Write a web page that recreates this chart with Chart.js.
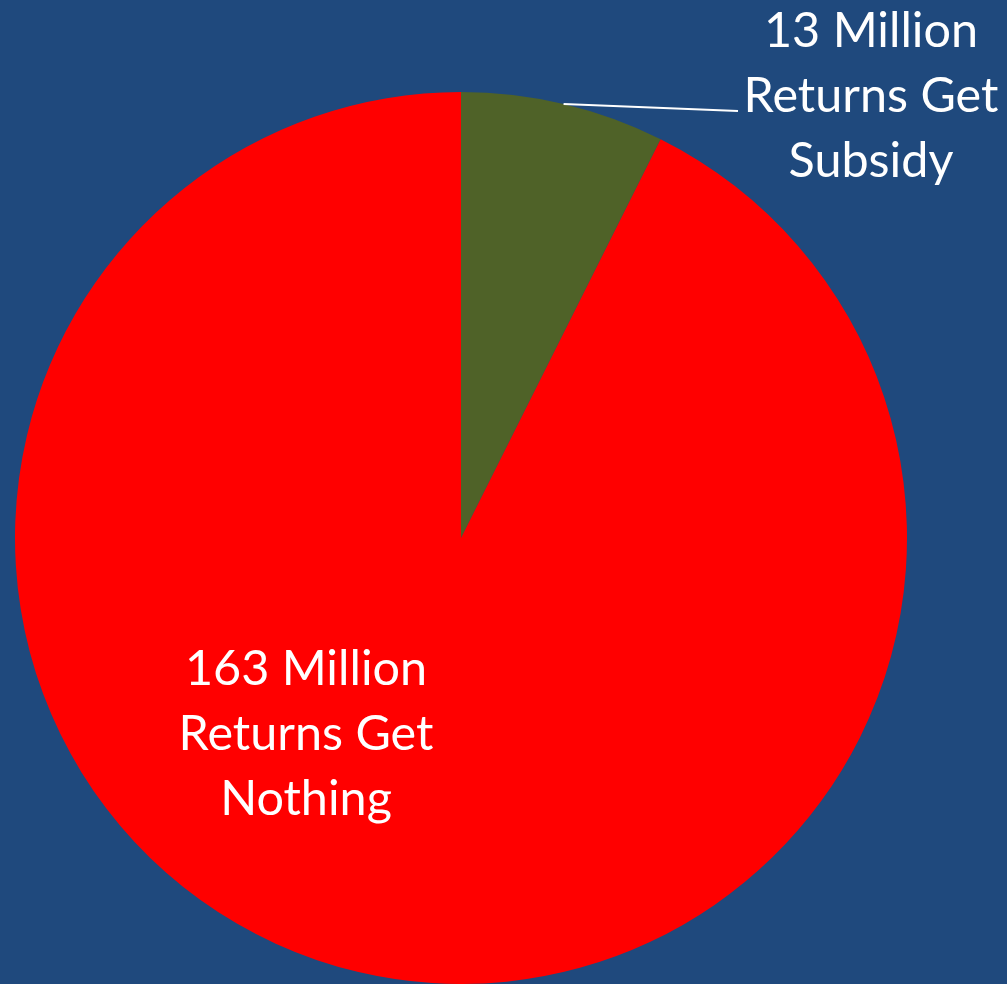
<!DOCTYPE html>
<html>
<head>
<meta charset="utf-8">
<script src="https://cdn.jsdelivr.net/npm/chart.js@4"></script>
<style>
  html, body { margin: 0; padding: 0; background: #1f497d; }
  #wrap { width: 1007px; height: 984px; }
</style>
</head>
<body>
<div id="wrap"><canvas id="pie"></canvas></div>
<script>
// data
const categories = ['Returns Get Subsidy', 'Returns Get Nothing'];
const values = [13, 163];
const labelLines = [
  ['13 Million', 'Returns Get', 'Subsidy'],
  ['163 Million', 'Returns Get', 'Nothing'],
];
const sliceColors = ['#4f6228', '#ff0000'];

/* ── slice labels + leader line ── */
const sliceLabelPlugin = {
  id: 'sliceLabels',
  afterDatasetsDraw(chart) {
    const { ctx } = chart;
    const arcs = chart.getDatasetMeta(0).data;
    const font = '48.5px Lato, "Open Sans", sans-serif';
    const lineH = 65;

    ctx.save();
    ctx.fillStyle = '#ffffff';
    ctx.font = font;
    ctx.textAlign = 'center';
    ctx.textBaseline = 'alphabetic';

    // small slice: outside label with leader line
    const a0 = arcs[0];
    const mid = (a0.startAngle + a0.endAngle) / 2;
    const sx = a0.x + Math.cos(mid) * a0.outerRadius;
    const sy = a0.y + Math.sin(mid) * a0.outerRadius;
    const lx = a0.x + 410;
    const ly = a0.y - 491;
    ctx.strokeStyle = '#ffffff';
    ctx.lineWidth = 2;
    ctx.beginPath();
    ctx.moveTo(sx, sy);
    ctx.lineTo(a0.x + 277, a0.y - 427);
    ctx.stroke();
    labelLines[0].forEach((t, i) => ctx.fillText(t, lx, ly + i * lineH));

    // big slice: label inside
    const a1 = arcs[1];
    const bx = a1.x - 155;
    const by = a1.y + 147;
    labelLines[1].forEach((t, i) => ctx.fillText(t, bx, by + i * lineH));

    ctx.restore();
  },
};

new Chart(document.getElementById('pie'), {
  type: 'pie',
  data: {
    labels: categories,
    datasets: [{
      data: values,
      backgroundColor: sliceColors,
      borderWidth: 0,
    }],
  },
  options: {
    responsive: true,
    maintainAspectRatio: false,
    animation: false,
    layout: { padding: { left: 15, right: 100, top: 92, bottom: 0 } },
    plugins: {
      legend: { display: false },
      tooltip: { enabled: false },
    },
  },
  plugins: [sliceLabelPlugin],
});
</script>
</body>
</html>
